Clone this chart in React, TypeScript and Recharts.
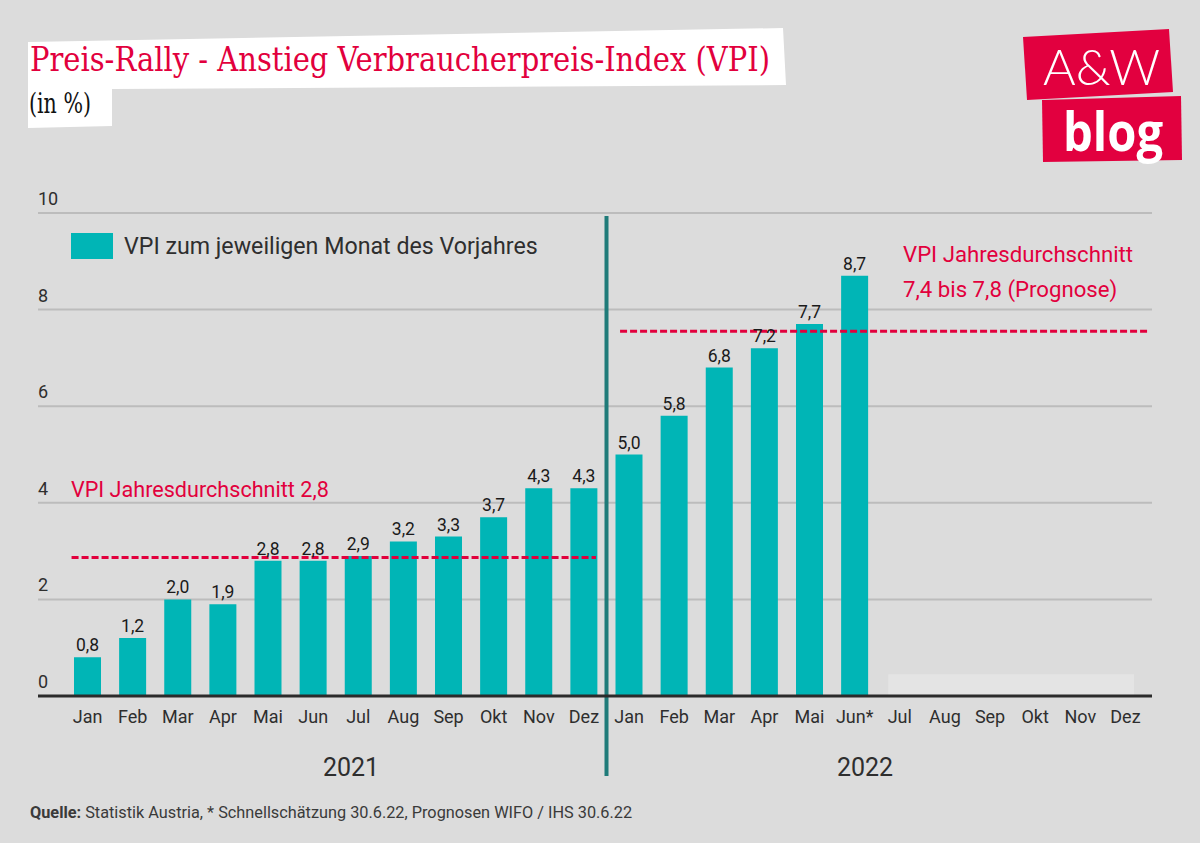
import React from 'react';
import { BarChart, Bar, XAxis, YAxis, CartesianGrid, LabelList, ReferenceLine, ReferenceArea } from 'recharts';

const MONTHS = ['Jan', 'Feb', 'Mar', 'Apr', 'Mai', 'Jun', 'Jul', 'Aug', 'Sep', 'Okt', 'Nov', 'Dez'];
const VPI_2021 = [0.8, 1.2, 2.0, 1.9, 2.8, 2.8, 2.9, 3.2, 3.3, 3.7, 4.3, 4.3];
const VPI_2022 = [5.0, 5.8, 6.8, 7.2, 7.7, 8.7];
const Y_TICKS = [0, 2, 4, 6, 8, 10];
const PRELIMINARY = 'Jun 22';
const AVG_2021 = 2.87;
const AVG_2022 = 7.55;
const OPEN_MONTHS_HEIGHT = 0.45;

const FONT = 'Roboto, "Noto Sans", sans-serif';
const SERIF = '"DejaVu Serif Condensed", "DejaVu Serif", serif';
const RED = '#e2003d';
const TEAL = '#00b5b6';
const TEXT = '#2e2e2e';

const data = [
    ...MONTHS.map((m, i) => ({ key: `${m} 21`, month: m, value: VPI_2021[i] })),
    ...MONTHS.map((m, i) => ({
        key: `${m} 22`,
        month: `${m} 22` === PRELIMINARY ? `${m}*` : m,
        value: VPI_2022[i] ?? null,
    })),
];

const fmt = (v: number) => v.toFixed(1).replace('.', ',');

const MonthTick = ({ x, y, payload }: any) => {
    const row = data.find(d => d.key === payload.value);
    return (
        <text x={x} y={y + 27} textAnchor="middle" fill={TEXT} fontSize={18} fontFamily={FONT}>
            {row ? row.month : payload.value}
        </text>
    );
};

const ValueTick = ({ x, y, payload }: any) => (
    <text x={x} y={y - 8} textAnchor="start" fill={TEXT} fontSize={18} fontFamily={FONT}>
        {payload.value}
    </text>
);

// dashed average line, stretched a little past the band centres like the original
const avgShape = (extLeft: number, extRight: number) => (props: any) => (
    <line
        x1={Math.min(props.x1, props.x2) - extLeft}
        y1={props.y1}
        x2={Math.max(props.x1, props.x2) + extRight}
        y2={props.y2}
        stroke={RED}
        strokeWidth={3}
        strokeDasharray="7 3"
    />
);

const dividerShape = (props: any) => {
    const top = Math.min(props.y1, props.y2);
    const bottom = Math.max(props.y1, props.y2);
    return <line x1={props.x1} y1={top + 3} x2={props.x2} y2={bottom + 80} stroke="#1f7b79" strokeWidth={4} />;
};

const openShape = (props: any) => (
    <rect x={props.x + 11} y={props.y} width={props.width - 25} height={props.height} fill="#e4e4e4" />
);

export default function App() {
    return (
        <div style={{ position: 'fixed', left: 0, top: 0, width: 1200, height: 843, background: '#dcdcdc', overflow: 'hidden' }}>
            <div style={{ position: 'absolute', left: 0, top: 0 }}>
                <BarChart width={1200} height={843} data={data} margin={{ top: 213, right: 48, bottom: 117, left: 8 }}>
                    <CartesianGrid vertical={false} stroke="#bcbcbc" strokeWidth={2} />
                    <ReferenceArea x1="Jul 22" x2="Dez 22" y1={0} y2={OPEN_MONTHS_HEIGHT} shape={openShape} />
                    <XAxis
                        dataKey="key"
                        interval={0}
                        padding={{ left: 27, right: 4 }}
                        tickLine={false}
                        tickSize={0}
                        tickMargin={0}
                        height={30}
                        axisLine={{ stroke: '#2b2b2b', strokeWidth: 3 }}
                        tick={<MonthTick />}
                    />
                    <YAxis
                        domain={[0, 10]}
                        ticks={Y_TICKS}
                        width={30}
                        axisLine={false}
                        tickLine={false}
                        tickSize={0}
                        tickMargin={0}
                        tick={<ValueTick />}
                    />
                    <Bar dataKey="value" fill={TEAL} barSize={27} isAnimationActive={false}>
                        <LabelList
                            dataKey="value"
                            position="top"
                            offset={6}
                            formatter={(v: any) => (v == null ? '' : fmt(Number(v)))}
                            style={{ fill: '#1a1a1a', fontSize: 17.5, fontFamily: FONT }}
                        />
                    </Bar>
                    <ReferenceLine
                        segment={[{ x: 'Jan 21', y: AVG_2021 }, { x: 'Dez 21', y: AVG_2021 }]}
                        shape={avgShape(16, 12)}
                    />
                    <ReferenceLine
                        segment={[{ x: 'Jan 22', y: AVG_2022 }, { x: 'Dez 22', y: AVG_2022 }]}
                        shape={avgShape(9, 24)}
                    />
                    <ReferenceLine x="Jan 22" position="start" shape={dividerShape} />
                </BarChart>
            </div>

            <svg width={1200} height={843} style={{ position: 'absolute', left: 0, top: 0, pointerEvents: 'none' }}>
                {/* title card */}
                <polygon points="28,42 783,28 786,85 112,89 112,126 28,128" fill="#ffffff" />
                <text x={30} y={71} fill={RED} fontSize={34} fontFamily={SERIF} textLength={740} lengthAdjust="spacingAndGlyphs">
                    Preis-Rally - Anstieg Verbraucherpreis-Index (VPI)
                </text>
                <text x={29} y={113} fill="#111" fontSize={27} fontFamily={SERIF} textLength={62} lengthAdjust="spacingAndGlyphs">
                    (in %)
                </text>

                {/* logo */}
                <polygon points="1023,37 1169,29 1173,92 1027,100" fill="#e2003f" />
                <polygon points="1042,100 1181,96 1182,160 1043,162" fill="#e2003f" />
                <text x={1043} y={85} fill="#fff" fontSize={50} fontFamily='Lato, "Open Sans", sans-serif' fontWeight={300} textLength={117} lengthAdjust="spacingAndGlyphs">
                    A&amp;W
                </text>
                <text x={1063} y={151} fill="#fff" fontSize={54} fontFamily='"Open Sans", sans-serif' fontWeight={700} textLength={100} lengthAdjust="spacingAndGlyphs">
                    blog
                </text>

                {/* legend */}
                <rect x={71} y={233} width={42} height={26} fill={TEAL} />
                <text x={124} y={254} fill={TEXT} fontSize={23.2} fontFamily={FONT}>
                    VPI zum jeweiligen Monat des Vorjahres
                </text>

                {/* averages */}
                <text x={71} y={497} fill={RED} fontSize={21.6} fontFamily={FONT}>
                    VPI Jahresdurchschnitt 2,8
                </text>
                <text x={903} y={262} fill={RED} fontSize={22.2} fontFamily={FONT}>
                    VPI Jahresdurchschnitt
                </text>
                <text x={903} y={297} fill={RED} fontSize={22.2} fontFamily={FONT}>
                    7,4 bis 7,8 (Prognose)
                </text>

                {/* years */}
                <text x={351} y={776} textAnchor="middle" fill={TEXT} fontSize={25} fontFamily={FONT}>2021</text>
                <text x={865} y={776} textAnchor="middle" fill={TEXT} fontSize={25} fontFamily={FONT}>2022</text>

                {/* source */}
                <text x={30} y={818} fill="#3a3a3a" fontSize={16.3} fontFamily={FONT}>
                    <tspan fontWeight={700}>Quelle:</tspan> Statistik Austria, * Schnellschätzung 30.6.22, Prognosen WIFO / IHS 30.6.22
                </text>
            </svg>
        </div>
    );
}
